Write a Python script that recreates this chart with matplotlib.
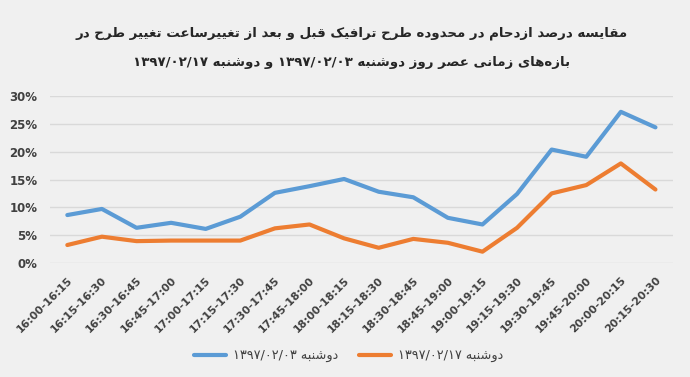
import re
import matplotlib
matplotlib.use('Agg')
import matplotlib.pyplot as plt
import matplotlib.ticker as ticker
import numpy as np

# ── data ──
slots = ['16:00-16:15', '16:15-16:30', '16:30-16:45', '16:45-17:00', '17:00-17:15',
         '17:15-17:30', '17:30-17:45', '17:45-18:00', '18:00-18:15', '18:15-18:30',
         '18:30-18:45', '18:45-19:00', '19:00-19:15', '19:15-19:30', '19:30-19:45',
         '19:45-20:00', '20:00-20:15', '20:15-20:30']
before = [8.6, 9.7, 6.3, 7.2, 6.1, 8.3, 12.6, 13.8, 15.1, 12.8,
          11.8, 8.1, 6.9, 12.4, 20.4, 19.1, 27.2, 24.4]
after = [3.2, 4.7, 3.9, 4.0, 4.0, 4.0, 6.2, 6.9, 4.4, 2.7,
         4.3, 3.6, 2.0, 6.3, 12.5, 14.0, 17.9, 13.2]

title_lines = ['مقایسه درصد ازدحام در محدوده طرح ترافیک قبل و بعد از تغییرساعت تغییر طرح در',
               'بازه‌های زمانی عصر روز دوشنبه ۱۳۹۷/۰۲/۰۳ و دوشنبه ۱۳۹۷/۰۲/۱۷']
legend_labels = ['دوشنبه ۱۳۹۷/۰۲/۰۳', 'دوشنبه ۱۳۹۷/۰۲/۱۷']

# ── minimal persian shaping (isolated, final, initial, medial) ──
FORMS = {
    'ا': (0xFE8D, 0xFE8E), 'آ': (0xFE81, 0xFE82),
    'ب': (0xFE8F, 0xFE90, 0xFE91, 0xFE92), 'پ': (0xFB56, 0xFB57, 0xFB58, 0xFB59),
    'ت': (0xFE95, 0xFE96, 0xFE97, 0xFE98), 'ث': (0xFE99, 0xFE9A, 0xFE9B, 0xFE9C),
    'ج': (0xFE9D, 0xFE9E, 0xFE9F, 0xFEA0), 'چ': (0xFB7A, 0xFB7B, 0xFB7C, 0xFB7D),
    'ح': (0xFEA1, 0xFEA2, 0xFEA3, 0xFEA4), 'خ': (0xFEA5, 0xFEA6, 0xFEA7, 0xFEA8),
    'د': (0xFEA9, 0xFEAA), 'ذ': (0xFEAB, 0xFEAC), 'ر': (0xFEAD, 0xFEAE),
    'ز': (0xFEAF, 0xFEB0), 'ژ': (0xFB8A, 0xFB8B),
    'س': (0xFEB1, 0xFEB2, 0xFEB3, 0xFEB4), 'ش': (0xFEB5, 0xFEB6, 0xFEB7, 0xFEB8),
    'ص': (0xFEB9, 0xFEBA, 0xFEBB, 0xFEBC), 'ض': (0xFEBD, 0xFEBE, 0xFEBF, 0xFEC0),
    'ط': (0xFEC1, 0xFEC2, 0xFEC3, 0xFEC4), 'ظ': (0xFEC5, 0xFEC6, 0xFEC7, 0xFEC8),
    'ع': (0xFEC9, 0xFECA, 0xFECB, 0xFECC), 'غ': (0xFECD, 0xFECE, 0xFECF, 0xFED0),
    'ف': (0xFED1, 0xFED2, 0xFED3, 0xFED4), 'ق': (0xFED5, 0xFED6, 0xFED7, 0xFED8),
    'ک': (0xFB8E, 0xFB8F, 0xFB90, 0xFB91), 'گ': (0xFB92, 0xFB93, 0xFB94, 0xFB95),
    'ل': (0xFEDD, 0xFEDE, 0xFEDF, 0xFEE0), 'م': (0xFEE1, 0xFEE2, 0xFEE3, 0xFEE4),
    'ن': (0xFEE5, 0xFEE6, 0xFEE7, 0xFEE8), 'و': (0xFEED, 0xFEEE),
    'ه': (0xFEE9, 0xFEEA, 0xFEEB, 0xFEEC), 'ی': (0xFBFC, 0xFBFD, 0xFBFE, 0xFBFF),
}


def shape(s):
    out = []
    for i, ch in enumerate(s):
        if ch not in FORMS:
            out.append(ch)
            continue
        prev = s[i - 1] if i > 0 else ''
        nxt = s[i + 1] if i + 1 < len(s) else ''
        f = FORMS[ch]
        jp = prev in FORMS and len(FORMS[prev]) == 4
        jn = nxt in FORMS and len(f) == 4
        if jp and jn:
            c = f[3]
        elif jp:
            c = f[1]
        elif jn:
            c = f[2]
        else:
            c = f[0]
        out.append(chr(c))
    return ''.join(out).replace('\u200c', '')


def rtl(s):
    s = shape(s)
    parts = re.findall(r'[۰-۹0-9/]+|[^۰-۹0-9/]+', s)
    return ''.join(p if re.match(r'[۰-۹0-9]', p) else p[::-1] for p in reversed(parts))


# ── plot ──
bg = '#f0f0f0'
fig = plt.figure(figsize=(6.9, 3.77), dpi=100, facecolor=bg)
ax = fig.add_axes([0.0725, 0.303, 0.9025, 0.4416], facecolor=bg)

x = np.arange(len(slots))
ax.plot(x, np.array(before) / 100, color='#5b9bd5', lw=3, solid_capstyle='round',
        label=rtl(legend_labels[0]), clip_on=False, zorder=3)
ax.plot(x, np.array(after) / 100, color='#ed7d31', lw=3, solid_capstyle='round',
        label=rtl(legend_labels[1]), clip_on=False, zorder=3)

ax.set_xlim(-0.5, len(slots) - 0.5)
ax.set_ylim(0, 0.30)
ax.yaxis.set_major_locator(ticker.MultipleLocator(0.05))
ax.yaxis.set_major_formatter(ticker.PercentFormatter(1.0, decimals=0))
ax.grid(axis='y', color='#d9d9d9', lw=1)
ax.set_axisbelow(True)
for sp in ax.spines.values():
    sp.set_visible(False)

ax.set_xticks(x)
ax.set_xticklabels(slots, rotation=45, ha='right', rotation_mode='anchor')
ax.tick_params(axis='x', length=0, pad=9, labelsize=7.8, labelcolor='#404040')
ax.tick_params(axis='y', length=0, pad=9, labelsize=8.5, labelcolor='#404040')
for lbl in ax.get_xticklabels() + ax.get_yticklabels():
    lbl.set_fontweight('bold')

fig.text(0.51, 0.912, rtl(title_lines[0]), ha='center', va='center',
         fontsize=9.6, fontweight='bold', color='#262626')
fig.text(0.51, 0.834, rtl(title_lines[1]), ha='center', va='center',
         fontsize=9.6, fontweight='bold', color='#262626')

fig.legend(loc='center', bbox_to_anchor=(0.505, 0.056), ncol=2, frameon=False,
           fontsize=9.3, handlelength=2.5, columnspacing=1.6, handletextpad=0.5,
           labelcolor='#404040')

fig.savefig('out.png', dpi=100, facecolor=bg)
